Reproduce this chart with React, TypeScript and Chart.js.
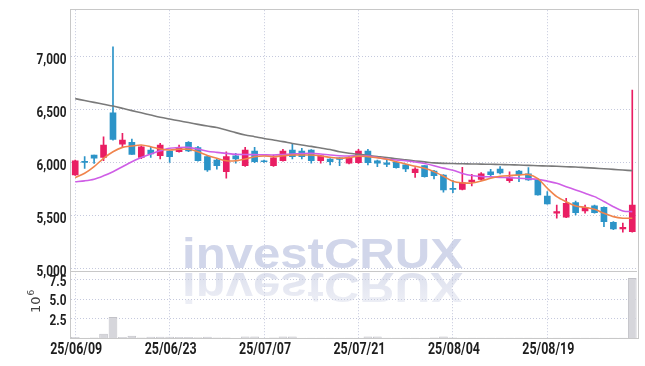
import React, { useEffect, useRef } from 'react';
import { Chart, registerables } from 'chart.js';
Chart.register(...registerables);

const dates = ['25/06/09','25/06/10','25/06/11','25/06/12','25/06/13','25/06/16','25/06/17','25/06/18','25/06/19','25/06/20','25/06/23','25/06/24','25/06/25','25/06/26','25/06/27','25/06/30','25/07/01','25/07/02','25/07/03','25/07/04','25/07/07','25/07/08','25/07/09','25/07/10','25/07/11','25/07/14','25/07/15','25/07/16','25/07/17','25/07/18','25/07/21','25/07/22','25/07/23','25/07/24','25/07/25','25/07/28','25/07/29','25/07/30','25/07/31','25/08/01','25/08/04','25/08/05','25/08/06','25/08/07','25/08/08','25/08/11','25/08/12','25/08/13','25/08/14','25/08/18','25/08/19','25/08/20','25/08/21','25/08/22','25/08/25','25/08/26','25/08/27','25/08/28','25/08/29','25/09/01'];

const open = [5880,6010,6069,6047,6468,6170,6189,6047,6116,6062,
  6107,6100,6189,6138,6053,6022,5911,6060,5968,6107,
  6012,5968,6015,6116,6107,6116,6015,6031,6043,5991,
  5996,6107,6015,5996,6000,5975,5902,5968,5918,5880,
  5750,5745,5817,5838,5910,5937,5826,5918,5890,5840,
  5682,5519,5481,5619,5540,5588,5575,5434,5371,5345];
const close = [6015,6000,6038,6163,6217,6210,6075,6147,6078,6163,
  6053,6141,6107,6015,5927,5968,6053,6031,6116,6006,
  6005,6043,6107,6053,6053,6015,6060,6006,6028,6047,
  6107,5996,5991,5981,5949,5937,5937,5864,5874,5739,
  5745,5808,5833,5890,5884,5900,5860,5884,5833,5692,
  5607,5534,5613,5525,5575,5525,5440,5371,5387,5597];
const high = [6020,6053,6069,6241,7090,6274,6220,6155,6141,6179,
  6110,6163,6195,6150,6060,6030,6100,6085,6141,6141,
  6020,6069,6123,6170,6132,6120,6065,6035,6045,6055,
  6123,6123,6020,6028,6005,5980,5949,5970,5925,5885,
  5827,5953,5887,5902,5934,5959,5911,5925,5949,5845,
  5723,5597,5660,5635,5597,5597,5580,5440,5425,6681];
const low = [5875,5943,5990,6015,6210,6142,6075,6035,6047,6031,
  6000,6095,6100,6010,5915,5934,5849,5991,5960,5996,
  6000,5960,6010,6031,6031,5991,5991,5975,5968,5985,
  5990,5975,5959,5959,5945,5911,5858,5860,5842,5717,
  5713,5740,5776,5830,5864,5890,5811,5817,5830,5690,
  5605,5472,5478,5503,5519,5519,5392,5365,5340,5340];

// volume in millions of shares
const volume = [0.12,0.04,0.05,0.55,2.7,0.12,0.3,0.08,0.15,0.15,
  0.15,0.12,0.12,0.1,0.15,0.05,0.06,0.04,0.18,0.18,
  0.04,0.06,0.18,0.18,0.04,0.03,0.03,0.03,0.04,0.03,
  0.04,0.18,0.18,0.03,0.03,0.03,0.03,0.04,0.05,0.2,
  0.05,0.04,0.03,0.03,0.03,0.03,0.03,0.03,0.03,0.04,
  0.04,0.03,0.04,0.03,0.03,0.03,0.04,0.03,0.03,7.7];

const maShort = [5855,5896,5959,6038,6100,6141,6154,6163,6147,6125,
  6116,6123,6123,6100,6065,6038,6015,6015,6031,6053,
  6060,6053,6062,6069,6069,6069,6060,6047,6038,6045,
  6058,6053,6043,6028,6006,5984,5962,5943,5912,5868,
  5820,5805,5805,5824,5849,5868,5875,5880,5885,5845,
  5755,5676,5628,5588,5575,5556,5519,5487,5472,5472];
const maMid = [5817,5825,5840,5872,5911,5958,6006,6045,6078,6108,
  6132,6140,6141,6125,6105,6094,6084,6075,6073,6072,
  6070,6069,6073,6078,6082,6085,6078,6069,6062,6060,
  6062,6060,6045,6031,6022,6015,6003,5988,5968,5945,
  5925,5895,5875,5866,5862,5858,5855,5850,5845,5840,
  5822,5802,5770,5739,5708,5676,5630,5581,5541,5534];
const maLong = [6601,6583,6566,6548,6531,6510,6488,6467,6446,6425,
  6408,6392,6375,6358,6342,6328,6305,6280,6258,6242,
  6225,6210,6195,6178,6163,6150,6135,6120,6100,6085,
  6075,6065,6055,6045,6033,6023,6013,6004,5995,5990,
  5988,5986,5984,5983,5981,5979,5977,5974,5971,5968,
  5965,5962,5958,5955,5950,5945,5939,5933,5927,5921];

const priceTicks = [5000, 5500, 6000, 6500, 7000];
const volumeTicks = [2.5, 5, 7.5];
const priceMin = 4962;
const priceMax = 7436;
const volMax = 8.45;

const UP = '#e91e63';
const DOWN = '#2c94c8';
const GRID = '#c5c9dd';
const BORDER = '#c8c8c8';
const LABEL_FONT = '"Roboto", "Liberation Sans", sans-serif';

const watermark = {
  id: 'watermark',
  beforeDraw(chart: any) {
    const ctx = chart.ctx;
    const text = 'investCRUX';
    ctx.save();
    ctx.font = 'bold 43px "Liberation Sans", Arial, sans-serif';
    const w = ctx.measureText(text).width;
    const sx = 281 / w;
    ctx.textBaseline = 'alphabetic';
    ctx.textAlign = 'left';
    ctx.save();
    ctx.translate(182, 268);
    ctx.scale(sx, 1);
    ctx.fillStyle = '#d1d6ea';
    ctx.fillText(text, 0, 0);
    ctx.restore();
    ctx.save();
    ctx.beginPath();
    ctx.rect(170, 271, 320, 38);
    ctx.clip();
    ctx.translate(182, 273);
    ctx.scale(sx, -1);
    const g = ctx.createLinearGradient(0, 0, 0, -36);
    g.addColorStop(0, 'rgba(222,225,238,1)');
    g.addColorStop(1, 'rgba(240,241,247,1)');
    ctx.fillStyle = g;
    ctx.fillText(text, 0, 0);
    ctx.restore();
    ctx.restore();
  },
};

function drawNarrow(ctx: any, text: string, x: number, y: number, size: number, targetW: number, refText: string, align: 'right' | 'center') {
  ctx.save();
  ctx.font = `bold ${size}px ${LABEL_FONT}`;
  const sx = targetW / ctx.measureText(refText).width;
  const w = ctx.measureText(text).width * sx;
  const left = align === 'right' ? x - w : x - w / 2;
  ctx.translate(left, y);
  ctx.scale(sx, 1);
  ctx.textAlign = 'left';
  ctx.textBaseline = 'alphabetic';
  ctx.fillStyle = '#1e1e1e';
  ctx.fillText(text, 0, 0);
  ctx.restore();
}

const frame = {
  id: 'frame',
  beforeDatasetsDraw(chart: any) {
    const ctx = chart.ctx;
    const a = chart.chartArea;
    const yv = chart.scales.yv;
    ctx.save();
    ctx.strokeStyle = BORDER;
    ctx.lineWidth = 1;
    ctx.strokeRect(Math.round(a.left) - 0.5, Math.round(a.top) - 0.5, Math.round(a.right - a.left) + 1, Math.round(a.bottom - a.top) + 1);
    ctx.beginPath();
    ctx.moveTo(a.left, Math.round(yv.top) - 0.5);
    ctx.lineTo(a.right, Math.round(yv.top) - 0.5);
    ctx.stroke();
    ctx.restore();
  },
  afterDraw(chart: any) {
    const ctx = chart.ctx;
    const y = chart.scales.y;
    const yv = chart.scales.yv;
    const x = chart.scales.x;
    priceTicks.forEach((v) => {
      drawNarrow(ctx, v.toLocaleString('en-US'), 66.5, y.getPixelForValue(v) + 7.5, 15, 30, '7,000', 'right');
    });
    volumeTicks.forEach((v) => {
      drawNarrow(ctx, v.toFixed(1), 66.5, yv.getPixelForValue(v) + 6, 15, 30, '7,000', 'right');
    });
    dates.forEach((d, i) => {
      if (i % 10 === 0) drawNarrow(ctx, d, x.getPixelForValue(i) + 1, 354, 17, 52, '25/06/09', 'center');
    });
    ctx.save();
    ctx.fillStyle = '#444';
    ctx.translate(40, 313);
    ctx.rotate(-Math.PI / 2);
    ctx.textBaseline = 'alphabetic';
    ctx.textAlign = 'left';
    ctx.font = '13px "DejaVu Sans", sans-serif';
    ctx.fillText('10', 0, 0);
    const w = ctx.measureText('10').width;
    ctx.font = '9px "DejaVu Sans", sans-serif';
    ctx.fillText('6', w + 1, -6);
    ctx.restore();
  },
};

export default function App() {
  const ref = useRef<HTMLCanvasElement>(null);
  useEffect(() => {
    if (!ref.current) return;
    const colors = open.map((o, i) => (close[i] >= o ? UP : DOWN));
    const chart = new Chart(ref.current, {
      type: 'bar',
      data: {
        labels: dates,
        datasets: [
          { type: 'line', label: 'MA5', data: maShort, yAxisID: 'y', borderColor: '#f0844c', borderWidth: 1.6, pointRadius: 0, tension: 0.3, order: 0 } as any,
          { type: 'line', label: 'MA20', data: maMid, yAxisID: 'y', borderColor: '#cf5ee6', borderWidth: 1.6, pointRadius: 0, tension: 0.3, order: 0 } as any,
          { type: 'line', label: 'MA60', data: maLong, yAxisID: 'y', borderColor: '#7a7a7a', borderWidth: 1.6, pointRadius: 0, tension: 0.3, order: 0 } as any,
          { label: 'body', data: open.map((o, i) => [o, close[i]]), yAxisID: 'y', backgroundColor: colors, barThickness: 6, minBarLength: 1, grouped: false, order: 1 } as any,
          { label: 'wick', data: low.map((l, i) => [l, high[i]]), yAxisID: 'y', backgroundColor: colors, barThickness: 1, grouped: false, order: 2 } as any,
          { label: 'volume', data: volume, yAxisID: 'yv', backgroundColor: '#d6d6db', borderColor: '#c2c2c8', borderWidth: 1, barPercentage: 0.92, categoryPercentage: 1, grouped: false, order: 3 } as any,
        ],
      },
      options: {
        animation: false,
        responsive: true,
        maintainAspectRatio: false,
        layout: { padding: { top: 9, right: 8, left: 0, bottom: 0 } },
        plugins: { legend: { display: false }, tooltip: { enabled: false } },
        scales: {
          x: {
            type: 'category',
            offset: true,
            grid: {
              offset: false,
              drawTicks: false,
              color: (c: any) => (c.index % 10 === 0 ? GRID : 'transparent'),
              lineWidth: 1,
            },
            border: { display: false, dash: [1, 2] },
            ticks: {
              autoSkip: false,
              maxRotation: 0,
              color: 'transparent',
              callback: (v: any, i: number) => (i % 10 === 0 ? dates[i] : ''),
            },
            afterFit: (s: any) => { s.height = 28; },
          },
          y: {
            type: 'linear',
            position: 'left',
            stack: 'main',
            stackWeight: 263,
            weight: 1,
            min: priceMin,
            max: priceMax,
            grid: { color: GRID, drawTicks: false },
            border: { display: false, dash: [1, 2] },
            ticks: { color: 'transparent' },
            afterBuildTicks: (s: any) => { s.ticks = priceTicks.map((v) => ({ value: v })); },
            afterFit: (s: any) => { s.width = 70.5; },
          },
          yv: {
            type: 'linear',
            position: 'left',
            stack: 'main',
            stackWeight: 66,
            weight: 0,
            min: 0,
            max: volMax,
            grid: { color: GRID, drawTicks: false },
            border: { display: false, dash: [1, 2] },
            ticks: { color: 'transparent' },
            afterBuildTicks: (s: any) => { s.ticks = volumeTicks.map((v) => ({ value: v })); },
            afterFit: (s: any) => { s.width = 70.5; },
          },
        },
      } as any,
      plugins: [watermark, frame],
    });
    return () => chart.destroy();
  }, []);
  return (
    <div style={{ position: 'fixed', left: 0, top: 0, width: 645, height: 366, background: '#fff' }}>
      <canvas ref={ref} />
    </div>
  );
}
